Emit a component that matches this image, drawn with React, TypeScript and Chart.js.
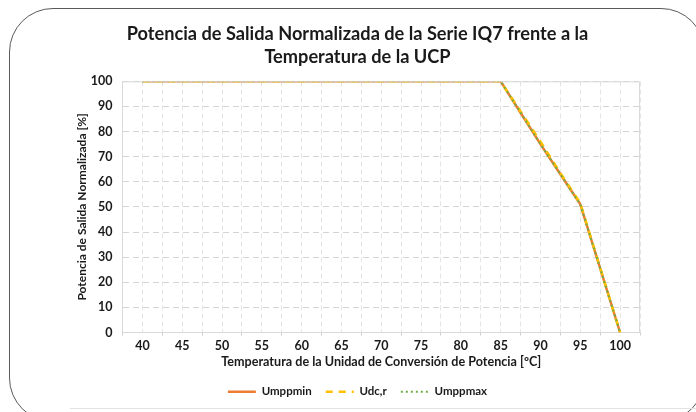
import React, { useEffect, useRef } from "react";
import { Chart, registerables } from "chart.js";

Chart.register(...registerables);

const temps = [40, 45, 50, 55, 60, 65, 70, 75, 80, 85, 87.5, 90, 92.5, 95, 100];
const umppmin = [100, 100, 100, 100, 100, 100, 100, 100, 100, 100, 87.5, 75, 63, 51, 0];
const udcr = [100, 100, 100, 100, 100, 100, 100, 100, 100, 100, 88, 76, 63.5, 51.5, 0];
const umppmax = [100, 100, 100, 100, 100, 100, 100, 100, 100, 100, 87.5, 75, 63, 51, 0];
const seriesNames = ["Umppmin", "Udc,r", "Umppmax"];
const titleLines = ["Potencia de Salida Normalizada de la Serie IQ7 frente a la", "Temperatura de la UCP"];
const xTitle = "Temperatura de la Unidad de Conversión de Potencia [ºC]";
const yTitle = "Potencia de Salida Normalizada [%]";

const FONT = "Lato, sans-serif";
const TEXT = "#1a1a1a";

export default function App() {
  const ref = useRef<HTMLCanvasElement>(null);
  useEffect(() => {
    const toPts = (ys: number[]) => temps.map((t, i) => ({ x: t, y: ys[i] }));
    const chart = new Chart(ref.current!, {
      type: "line",
      data: {
        datasets: [
          { label: seriesNames[0], data: toPts(umppmin), borderColor: "#ED7D31", backgroundColor: "#ED7D31", borderWidth: 2.5, pointRadius: 0, tension: 0, order: 2 },
          { label: seriesNames[1], data: toPts(udcr), borderColor: "#FFC000", backgroundColor: "#FFC000", borderWidth: 2.5, borderDash: [7, 6], pointRadius: 0, tension: 0, order: 1 },
          { label: seriesNames[2], data: toPts(umppmax), borderColor: "#70AD47", backgroundColor: "#70AD47", borderWidth: 2, borderDash: [2, 3], pointRadius: 0, tension: 0, order: 0 },
        ],
      },
      options: {
        animation: false,
        responsive: false,
        maintainAspectRatio: false,
        layout: { padding: { left: 75, right: 56, top: 22, bottom: 4.5 } },
        plugins: {
          title: {
            display: true,
            text: titleLines,
            color: TEXT,
            font: { family: FONT, size: 18.2, weight: "bold", lineHeight: 1.3 },
            padding: { top: 0, bottom: 12 },
          },
          legend: {
            position: "bottom",
            labels: {
              usePointStyle: true,
              pointStyle: "line",
              pointStyleWidth: 28,
              boxHeight: 8,
              color: TEXT,
              font: { family: FONT, size: 11.5, weight: "bold" },
              padding: 14,
              sort: (a: any, b: any) => a.datasetIndex - b.datasetIndex,
              generateLabels: (c: any) =>
                c.data.datasets.map((d: any, i: number) => ({
                  text: d.label,
                  datasetIndex: i,
                  fillStyle: d.borderColor,
                  strokeStyle: d.borderColor,
                  lineWidth: d.borderWidth,
                  lineDash: d.borderDash || [],
                  pointStyle: "line",
                  fontColor: TEXT,
                  hidden: false,
                })),
            },
          },
          tooltip: { enabled: false },
        },
        scales: {
          x: {
            type: "linear",
            min: 37.5,
            max: 102.5,
            afterFit: (s: any) => {
              s.height = 39.5;
            },
            border: { display: true, color: "#d9d9d9", dash: [5, 3] },
            grid: {
              color: "#e4e4e4",
              tickColor: (c: any) => (Math.abs(((c.tick?.value ?? 0) - 37.5) % 5) < 0.01 ? "#d0d0d0" : "rgba(0,0,0,0)"),
              tickLength: 3,
              tickBorderDash: [],
            } as any,
            ticks: {
              stepSize: 2.5,
              autoSkip: false,
              maxRotation: 0,
              color: TEXT,
              padding: 3,
              font: { family: FONT, size: 12.5, weight: "bold" },
              callback: (v: any) => (Number(v) % 5 === 0 && Number(v) >= 40 && Number(v) <= 100 ? String(v) : ""),
            },
            title: {
              display: true,
              text: xTitle,
              color: TEXT,
              font: { family: FONT, size: 12.6, weight: "bold", lineHeight: 1.2 },
              padding: { top: 0, bottom: 3 },
            },
          },
          y: {
            min: 0,
            max: 100,
            afterFit: (s: any) => {
              s.width = 47.5;
            },
            border: { display: true, color: "#d9d9d9", dash: [6, 4] },
            grid: { color: "#d4d4d4", drawTicks: false },
            ticks: {
              stepSize: 10,
              color: TEXT,
              padding: 10,
              font: { family: FONT, size: 12.5, weight: "bold" },
            },
            title: {
              display: true,
              text: yTitle,
              color: TEXT,
              font: { family: FONT, size: 12, weight: "bold", lineHeight: 1.2 },
              padding: { top: 0, bottom: 0 },
            },
          },
        },
      },
      plugins: [
        {
          id: "frame",
          afterDraw(c: any) {
            const { ctx, chartArea: a } = c;
            ctx.save();
            ctx.strokeStyle = "#d9d9d9";
            ctx.lineWidth = 1;
            ctx.setLineDash([]);
            ctx.beginPath();
            ctx.moveTo(a.left, a.top + 0.5);
            ctx.lineTo(a.right - 0.5, a.top + 0.5);
            ctx.lineTo(a.right - 0.5, a.bottom);
            ctx.stroke();
            ctx.restore();
          },
        } as any,
      ],
    } as any);
    return () => chart.destroy();
  }, []);
  return (
    <div style={{ position: "fixed", left: 0, top: 0, width: 696, height: 412, overflow: "hidden", background: "#fff" }}>
      <div style={{ position: "absolute", left: 9, top: 8, width: 696, height: 414, border: "1px solid #5a5a5a", borderRadius: 44, boxSizing: "border-box" }} />
      <div style={{ position: "absolute", left: 70, top: 408, width: 640, height: 1, background: "#e3e3e3" }} />
      <canvas ref={ref} width={696} height={412} style={{ position: "absolute", left: 0, top: 0, width: 696, height: 412 }} />
    </div>
  );
}
